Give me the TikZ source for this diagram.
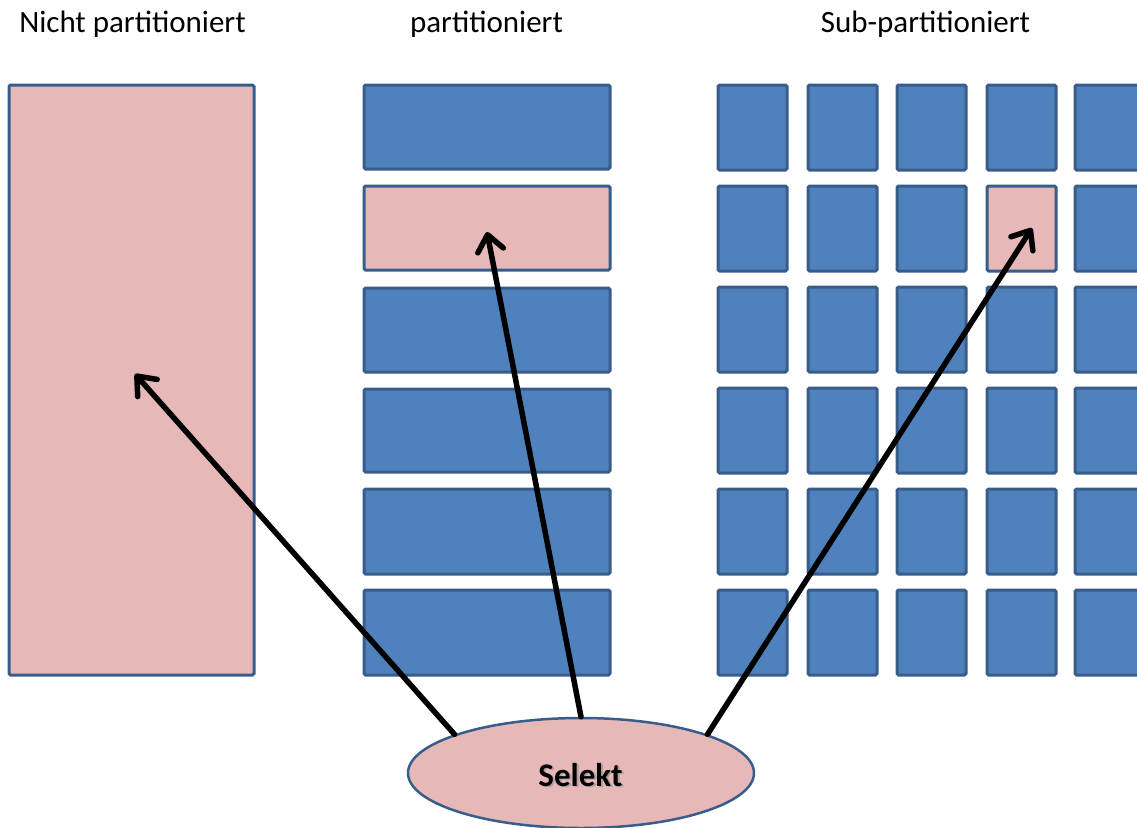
\documentclass[tikz,border=0pt]{standalone}
\usepackage{fontspec}
\setmainfont{Carlito}
\usetikzlibrary{arrows.meta,shapes.geometric}
\definecolor{partblue}{HTML}{4F81BD}
\definecolor{edgeblue}{HTML}{385D8A}
\definecolor{hitpink}{HTML}{E6B9B8}
% box from corner (#2,#3) to corner (#4,#5), named #1, filled with #6
\newcommand\partbox[6]{%
  \node[cell, fill=#6, minimum width={(#4)-(#2)}, minimum height={(#5)-(#3)}]
    (#1) at ({((#2)+(#4))/2},{((#3)+(#5))/2}) {};}
\begin{document}
\begin{tikzpicture}[x=1pt,y=-1pt,
  cell/.style={draw=edgeblue, line width=3pt, rounded corners=1.5pt,
    inner sep=0pt, outer sep=0pt},
  title/.style={anchor=base, font=\fontsize{31}{37}\selectfont},
  link/.style={line width=5.5pt, line cap=round,
    -{Straight Barb[length=16pt,width=26pt,line cap=round,line join=round]}}]
\useasboundingbox (0,0) rectangle (1137,827);
\fill[white] (0,0) rectangle (1137,827);

% column titles
\node[title] (t-none) at (132.5,32) {Nicht partitioniert};
\node[title] (t-part) at (486.5,32) {partitioniert};
\node[title] (t-sub)  at (925.5,32) {Sub-partitioniert};

% unpartitioned table
\partbox{whole}{9}{85}{254}{675}{hitpink}

% partitioned table
\foreach \r/\ya/\yb in {1/85/169,2/186/270,3/288/372,4/389/472,5/489/574,6/590/675}{
  \ifnum\r=2 \def\fc{hitpink}\else\def\fc{partblue}\fi
  \partbox{p\r}{364}{\ya}{610}{\yb}{\fc}
}

% sub-partitioned table
\foreach \c/\xa in {1/718,2/808,3/897,4/987,5/1075}{
  \foreach \r/\ya in {1/85,2/186,3/287,4/388,5/489,6/590}{
    \def\fc{partblue}
    \ifnum\c=4 \ifnum\r=2 \def\fc{hitpink}\fi\fi
    \partbox{s\c\r}{\xa}{\ya}{\xa+69}{\ya+85}{\fc}
  }
}

% query
\node[ellipse, draw=edgeblue, line width=2.5pt, fill=hitpink,
  minimum width=346pt, minimum height=110pt, inner sep=0pt] (sel) at (581,773) {};
\node[anchor=base, font=\bfseries\fontsize{33}{40}\selectfont, text=black!45,
  opacity=0.6] (sel-shadow) at (582.5,787.5) {Selekt};
\node[anchor=base, font=\bfseries\fontsize{33}{40}\selectfont] (sel-label)
  at (580.5,786) {Selekt};

% targets of the query
\coordinate (hit-whole) at (135,374);
\coordinate (hit-part) at (487,232);
\coordinate (hit-sub) at (1032,228);

\draw[link] (sel.163) -- (hit-whole);
\draw[link] (sel.90) -- (hit-part);
\draw[link] (sel.17) -- (hit-sub);
\end{tikzpicture}
\end{document}
